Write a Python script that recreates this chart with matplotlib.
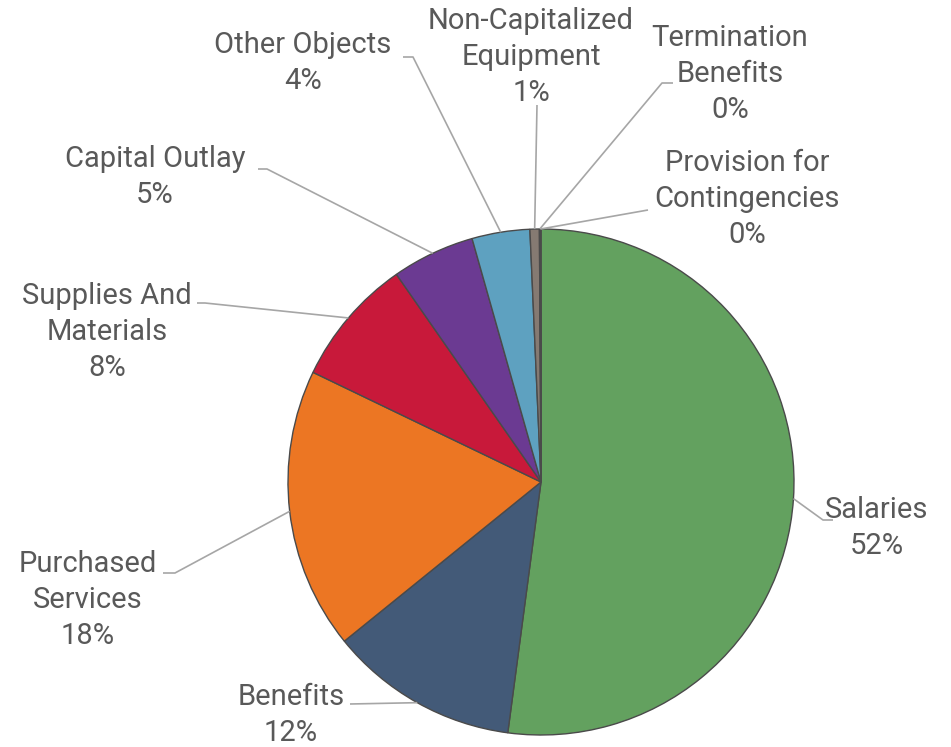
import matplotlib
matplotlib.use("Agg")
import matplotlib.pyplot as plt
import numpy as np

# Expenditure shares by object (percent)
categories = ["Salaries", "Benefits", "Purchased\nServices", "Supplies And\nMaterials",
              "Capital Outlay", "Other Objects", "Non-Capitalized\nEquipment",
              "Termination\nBenefits", "Provision for\nContingencies"]
shares = [52.2, 12.1, 18.0, 8.2, 5.3, 3.7, 0.6, 0.05, 0.05]
colors = ["#63a15f", "#435a78", "#ec7623", "#c8193a", "#6b3a92",
          "#5ea1c0", "#857a72", "#9aa0a6", "#b0b0b0"]

W, H = 951, 747
CX, CY, R = 541, 265, 253

# label block centres and leader elbow / end points (y measured upward)
label_pos = [(877, 219), (291, 32), (88, 147), (107, 415), (155, 570),
             (303, 684), (531, 690), (730, 673), (747, 548)]
elbows = [(823, 227), (350, 43), (175, 174), (205, 444), (267, 578),
          (413, 690), (537, 642), (662, 664), (648, 537)]
ends = [(833, 227), (350, 43), (163, 174), (197, 444), (258, 578),
        (403, 690), (537, 642), (673, 664), (648, 537)]

plt.rcParams['font.family'] = ['Roboto', 'DejaVu Sans']

fig = plt.figure(figsize=(W / 100, H / 100), dpi=100)
ax = fig.add_axes([0, 0, 1, 1])

wedges, _ = ax.pie(shares, colors=colors, startangle=90, counterclock=False,
                   center=(CX, CY), radius=R, frame=True,
                   wedgeprops=dict(edgecolor="#4a4a4a", linewidth=1.0))
ax.set_xlim(0, W)
ax.set_ylim(0, H)
ax.set_aspect('equal')
ax.axis('off')

total = sum(shares)
for w, name, val, (tx, ty), el, en in zip(wedges, categories, shares, label_pos, elbows, ends):
    mid = np.deg2rad((w.theta1 + w.theta2) / 2)
    sx, sy = CX + R * np.cos(mid), CY + R * np.sin(mid)
    ax.plot([sx, el[0], en[0]], [sy, el[1], en[1]], color="#a6a6a6", lw=1.2,
            solid_capstyle='butt', zorder=1)
    pct = round(val / total * 100)
    ax.text(tx, ty, f"{name}\n{pct}%", ha='center', va='center', multialignment='center',
            fontsize=21, color="#595959", linespacing=1.36)

fig.savefig("out.png", dpi=100)
